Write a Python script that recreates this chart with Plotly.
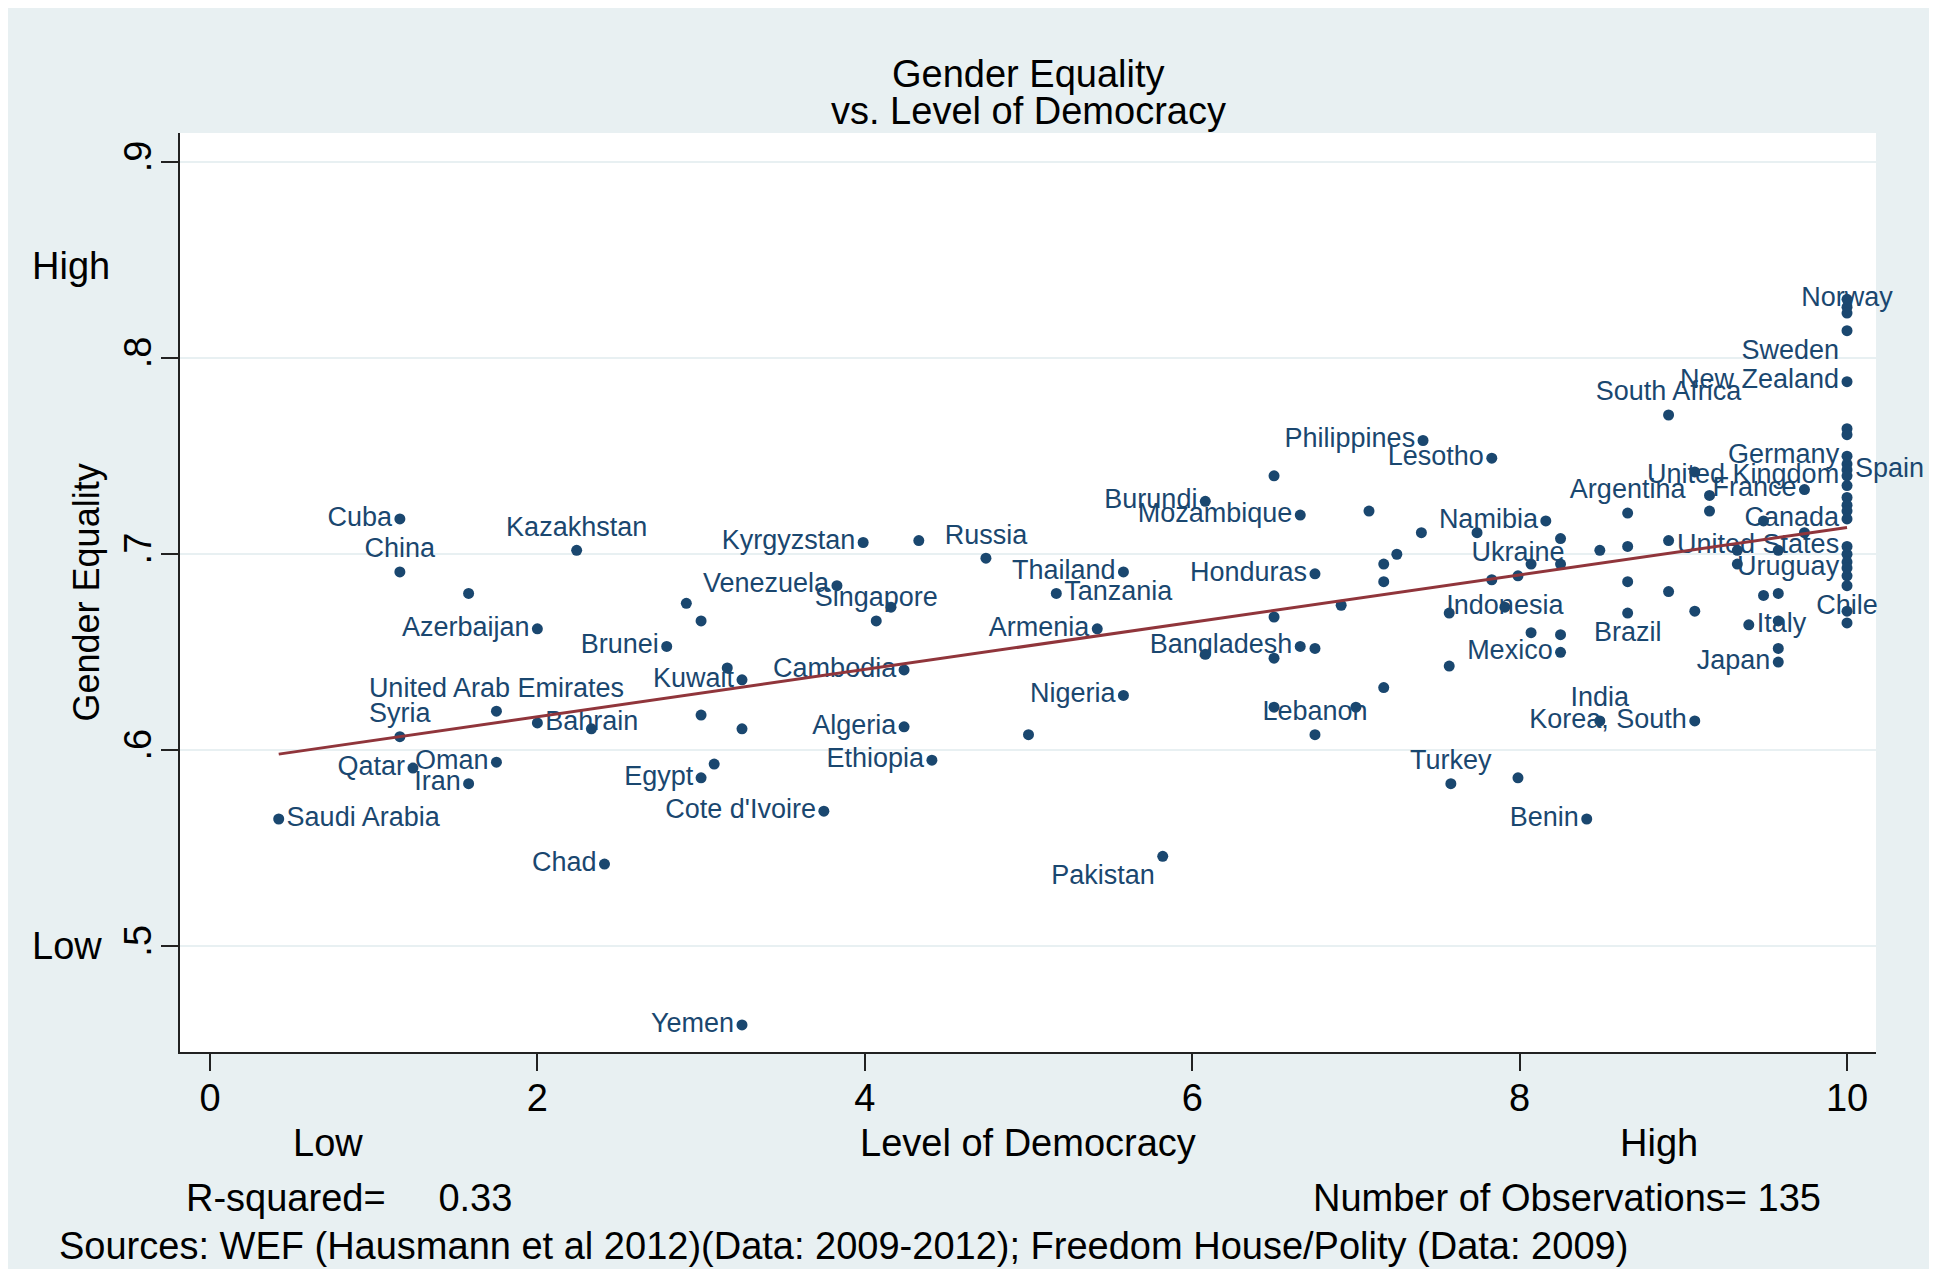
import numpy as np
import plotly.graph_objects as go

# ---------------- data ----------------
labeled_countries = [
    "Saudi Arabia", "Cuba", "China", "Kazakhstan", "Azerbaijan", "Brunei",
    "United Arab Emirates", "Syria", "Bahrain", "Qatar", "Oman", "Iran", "Chad", "Yemen",
    "Kyrgyzstan", "Russia", "Venezuela", "Singapore", "Kuwait", "Cambodia", "Algeria",
    "Nigeria", "Ethiopia", "Egypt", "Cote d'Ivoire", "Pakistan",
    "Philippines", "Lesotho", "Burundi", "Mozambique", "Namibia", "Thailand", "Tanzania",
    "Honduras", "Armenia", "Bangladesh", "Lebanon", "Turkey", "Benin",
    "Ukraine", "Argentina", "Brazil", "Indonesia", "Mexico", "India", "Korea, South",
    "South Africa", "France", "Italy", "Japan",
    "Norway", "Sweden", "New Zealand", "Germany", "Spain", "United Kingdom", "Canada",
    "United States", "Uruguay", "Chile",
]
labeled_democracy = [
    0.42, 1.16, 1.16, 2.24, 2.00, 2.79,
    1.75, 1.16, 2.00, 1.24, 1.75, 1.58, 2.41, 3.25,
    3.99, 4.74, 3.83, 4.07, 3.25, 4.24, 4.24,
    5.58, 4.41, 3.00, 3.75, 5.82,
    7.41, 7.83, 6.08, 6.66, 8.16, 5.58, 5.17,
    6.75, 5.42, 6.66, 6.75, 7.58, 8.41,
    7.99, 8.66, 8.66, 7.91, 8.25, 8.49, 9.07,
    8.91, 9.74, 9.40, 9.58,
    10.0, 10.0, 10.0, 10.0, 10.0, 10.0, 10.0,
    10.0, 10.0, 10.0,
]
labeled_gender_equality = [
    0.565, 0.718, 0.691, 0.702, 0.662, 0.653,
    0.620, 0.607, 0.614, 0.591, 0.594, 0.583, 0.542, 0.460,
    0.706, 0.698, 0.684, 0.666, 0.636, 0.641, 0.612,
    0.628, 0.595, 0.586, 0.569, 0.546,
    0.758, 0.749, 0.727, 0.720, 0.717, 0.691, 0.680,
    0.690, 0.662, 0.653, 0.608, 0.583, 0.565,
    0.689, 0.721, 0.670, 0.673, 0.650, 0.615, 0.615,
    0.771, 0.733, 0.664, 0.645,
    0.830, 0.814, 0.788, 0.750, 0.743, 0.740, 0.718,
    0.704, 0.693, 0.684,
]

other_democracy = [
    1.58, 2.33, 4.33, 2.91, 3.00, 4.16, 3.16, 3.00, 3.25, 5.00, 3.08,
    6.50, 7.08, 7.40, 7.74, 7.25, 7.17, 7.17, 6.91, 6.50, 6.75, 6.08, 6.50,
    7.17, 6.50, 7.00, 7.99,
    7.83, 8.07, 8.25, 8.25, 8.49, 8.66, 8.91, 8.66, 8.91, 9.07, 7.57, 8.07,
    8.25, 7.57,
    9.07, 9.16, 9.16, 9.49, 9.74, 9.33, 9.58, 9.33, 9.49, 9.58, 9.58, 9.58,
    10.0, 10.0, 10.0, 10.0, 10.0, 10.0, 10.0, 10.0, 10.0, 10.0, 10.0, 10.0,
    10.0, 10.0,
]
other_gender_equality = [
    0.680, 0.611, 0.707, 0.675, 0.666, 0.673, 0.642, 0.618, 0.611, 0.608, 0.593,
    0.740, 0.722, 0.711, 0.711, 0.700, 0.695, 0.686, 0.674, 0.668, 0.652, 0.649, 0.647,
    0.632, 0.622, 0.622, 0.586,
    0.687, 0.695, 0.708, 0.695, 0.702, 0.704, 0.707, 0.686, 0.681, 0.671, 0.670, 0.660,
    0.659, 0.643,
    0.742, 0.730, 0.722, 0.717, 0.711, 0.702, 0.702, 0.695, 0.679, 0.680, 0.666, 0.652,
    0.826, 0.823, 0.764, 0.761, 0.746, 0.735, 0.729, 0.725, 0.722, 0.700, 0.696, 0.689,
    0.671, 0.665,
]

x_ticks = [0, 2, 4, 6, 8, 10]
y_ticks = [0.5, 0.6, 0.7, 0.8, 0.9]
y_tick_text = [".5", ".6", ".7", ".8", ".9"]
y_hint_labels = ["Low", "High"]
y_hint_values = [0.5, 0.847]
x_hint_labels = ["Low", "High"]
x_hint_values = [0.72, 8.85]
r_squared = 0.33
n_obs = 135

# ---------------- styling ----------------
NAVY = "#1A476F"
MAROON = "#90353B"
BG = "#E8F0F2"
FONT = "Liberation Sans, Arial, Helvetica, sans-serif"

label_pos = {
    "Saudi Arabia": "middle right", "Cuba": "middle left", "China": "top center",
    "Kazakhstan": "top center", "Azerbaijan": "middle left", "Brunei": "middle left",
    "United Arab Emirates": "top center", "Syria": "top center", "Bahrain": "middle right",
    "Qatar": "middle left", "Oman": "middle left", "Iran": "middle left", "Chad": "middle left",
    "Yemen": "middle left", "Kyrgyzstan": "middle left", "Russia": "top center",
    "Venezuela": "middle left", "Singapore": "top center", "Kuwait": "middle left",
    "Cambodia": "middle left", "Algeria": "middle left", "Nigeria": "middle left",
    "Ethiopia": "middle left", "Egypt": "middle left", "Cote d'Ivoire": "middle left",
    "Pakistan": "bottom left", "Philippines": "middle left", "Lesotho": "middle left",
    "Burundi": "middle left", "Mozambique": "middle left", "Namibia": "middle left",
    "Thailand": "middle left", "Tanzania": "middle right", "Honduras": "middle left",
    "Armenia": "middle left", "Bangladesh": "middle left", "Lebanon": "top center",
    "Turkey": "top center", "Benin": "middle left", "Ukraine": "top center",
    "Argentina": "top center", "Brazil": "bottom center", "Indonesia": "middle center",
    "Mexico": "middle left", "India": "top center", "Korea, South": "middle left",
    "South Africa": "top center", "France": "middle left", "Italy": "middle right",
    "Japan": "middle left", "Norway": "middle center", "Sweden": "bottom left",
    "New Zealand": "middle left", "Germany": "middle left", "Spain": "middle right",
    "United Kingdom": "middle left", "Canada": "middle left", "United States": "middle left",
    "Uruguay": "middle left", "Chile": "bottom center",
}
positions = [label_pos[c] for c in labeled_countries]

# ---------------- fit ----------------
all_x = np.array(labeled_democracy + other_democracy)
all_y = np.array(labeled_gender_equality + other_gender_equality)
slope, intercept = np.polyfit(all_x, all_y, 1)
fit_x = np.array([all_x.min(), all_x.max()])
fit_y = intercept + slope * fit_x

fig = go.Figure()
fig.add_trace(go.Scatter(
    x=other_democracy, y=other_gender_equality, mode="markers", cliponaxis=False,
    marker=dict(color=NAVY, size=11), showlegend=False, hoverinfo="skip"))
fig.add_trace(go.Scatter(
    x=labeled_democracy, y=labeled_gender_equality, mode="markers+text", cliponaxis=False,
    text=labeled_countries, textposition=positions,
    textfont=dict(family=FONT, size=27, color=NAVY),
    marker=dict(color=NAVY, size=11), showlegend=False))
fig.add_trace(go.Scatter(
    x=fit_x, y=fit_y, mode="lines", line=dict(color=MAROON, width=3),
    showlegend=False, hoverinfo="skip"))

# page has an 8px body margin; figure sized so that it ends where the reference frame ends
W, H = 1923, 1261
L, R, T, B = 172, 55, 125, 217
pw, ph = W - L - R, H - T - B


def px(xp):  # xp: page pixel (reference coordinates)
    return (xp - 180) / pw


def py(yp):
    return (1052 - yp) / ph


big = dict(family=FONT, size=38, color="black")
ann = []
ann.append(dict(text="Gender Equality", xref="paper", yref="paper", x=0.5, y=py(74),
                showarrow=False, font=big, xanchor="center", yanchor="middle"))
ann.append(dict(text="vs. Level of Democracy", xref="paper", yref="paper", x=0.5, y=py(111),
                showarrow=False, font=big, xanchor="center", yanchor="middle"))
ann.append(dict(text="Level of Democracy", xref="paper", yref="paper", x=0.5, y=py(1143),
                showarrow=False, font=big, xanchor="center", yanchor="middle"))
for lab, v in zip(x_hint_labels, x_hint_values):
    ann.append(dict(text=lab, xref="x", yref="paper", x=v, y=py(1143), showarrow=False,
                    font=big, xanchor="center", yanchor="middle"))
for lab, v in zip(y_hint_labels, y_hint_values):
    ann.append(dict(text=lab, xref="paper", yref="y", x=px(30), y=v, showarrow=False,
                    font=big, xanchor="left", yanchor="middle"))
ann.append(dict(text="Gender Equality", xref="paper", yref="paper", x=px(86), y=0.5,
                textangle=-90, showarrow=False, font=dict(family=FONT, size=36, color="black"),
                xanchor="center", yanchor="middle"))
ann.append(dict(text="R-squared=\u00a0\u00a0\u00a0\u00a0\u00a0%.2f" % r_squared,
                xref="paper", yref="paper", x=px(184), y=py(1198), showarrow=False,
                font=big, xanchor="left", yanchor="middle"))
ann.append(dict(text="Number of Observations= %d" % n_obs,
                xref="paper", yref="paper", x=px(1823), y=py(1198), showarrow=False,
                font=big, xanchor="right", yanchor="middle"))
ann.append(dict(text="Sources: WEF (Hausmann et al 2012)(Data: 2009-2012); Freedom House/Polity (Data: 2009)",
                xref="paper", yref="paper", x=px(57), y=py(1246), showarrow=False,
                font=big, xanchor="left", yanchor="middle"))

fig.update_layout(
    width=W, height=H,
    margin=dict(l=L, r=R, t=T, b=B, pad=0),
    paper_bgcolor=BG, plot_bgcolor="white",
    annotations=ann,
    font=dict(family=FONT, color="black"),
    xaxis=dict(range=[-0.183, 10.177], tickvals=x_ticks, ticks="outside", ticklen=17,
               tickwidth=2, tickcolor="#222", showline=True, linecolor="#222", linewidth=2,
               showgrid=False, zeroline=False, ticklabelstandoff=-6,
               tickfont=dict(family=FONT, size=38, color="black")),
    yaxis=dict(range=[0.4462, 0.9148], tickvals=y_ticks, ticktext=y_tick_text,
               ticks="outside", ticklen=17, tickwidth=2, tickcolor="#222", tickangle=-90,
               showline=True, linecolor="#222", linewidth=2, showgrid=True,
               gridcolor=BG, gridwidth=2, zeroline=False, ticklabelstandoff=-5,
               tickfont=dict(family=FONT, size=38, color="black")),
)

fig.write_html("out.html")
